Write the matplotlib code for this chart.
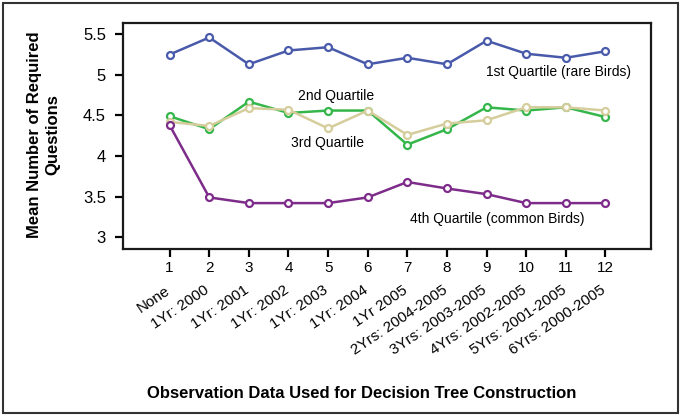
import matplotlib
matplotlib.use("Agg")
import matplotlib.pyplot as plt
from matplotlib.patches import Rectangle

plt.rcParams['font.family'] = ['Liberation Sans', 'DejaVu Sans']

# datos
x = list(range(1, 13))
etiquetas = ["None", "1Yr: 2000", "1Yr: 2001", "1Yr: 2002", "1Yr: 2003",
             "1Yr: 2004", "1Yr 2005", "2Yrs: 2004-2005", "3Yrs: 2003-2005",
             "4Yrs: 2002-2005", "5Yrs: 2001-2005", "6Yrs: 2000-2005"]
q1 = [5.25, 5.46, 5.13, 5.30, 5.34, 5.13, 5.21, 5.13, 5.42, 5.26, 5.21, 5.29]
q2 = [4.49, 4.33, 4.67, 4.53, 4.56, 4.56, 4.14, 4.33, 4.60, 4.56, 4.60, 4.48]
q3 = [4.42, 4.37, 4.59, 4.57, 4.34, 4.56, 4.26, 4.40, 4.44, 4.60, 4.60, 4.56]
q4 = [4.38, 3.49, 3.42, 3.42, 3.42, 3.49, 3.68, 3.60, 3.53, 3.42, 3.42, 3.42]

c_azul = "#4a5aab"
c_verde = "#35b64a"
c_beige = "#d5cd9c"
c_morado = "#7d2c8a"

fig = plt.figure(figsize=(6.85, 4.19), dpi=100)
ax = fig.add_axes([0.179, 0.406, 0.772, 0.540])

estilo = dict(marker="o", markersize=5, markerfacecolor="white",
              markeredgewidth=1.6, linewidth=1.8)
ax.plot(x, q2, color=c_verde, **estilo)
ax.plot(x, q3, color=c_beige, **estilo)
ax.plot(x, q4, color=c_morado, **estilo)
ax.plot(x, q1, color=c_azul, **estilo)

ax.set_xlim(-0.186, 13.16)
ax.set_ylim(2.856, 5.643)
ax.set_yticks([3, 3.5, 4, 4.5, 5, 5.5])
ax.set_yticklabels(["3", "3.5", "4", "4.5", "5", "5.5"])
ax.set_xticks(x)
ax.set_xticklabels([str(i) for i in x])

for s in ax.spines.values():
    s.set_linewidth(1.6)
    s.set_color("#1a1a1a")
ax.tick_params(axis="y", labelsize=12, length=6, width=1.6, direction="out", pad=6)
ax.tick_params(axis="x", labelsize=11, length=6, width=1.6, direction="out", pad=3)

# segunda fila de etiquetas, rotadas
for xi, et in zip(x, etiquetas):
    ax.text(xi - 0.03, -0.178, et, rotation=34, ha="right", va="center",
            rotation_mode="anchor", fontsize=11,
            transform=ax.get_xaxis_transform())

ax.text(8.98, 5.032, "1st Quartile (rare Birds)", fontsize=10, va="center")
ax.text(4.24, 4.74, "2nd Quartile", fontsize=10, va="center")
ax.text(4.06, 4.165, "3rd Quartile", fontsize=10, va="center")
ax.text(7.06, 3.222, "4th Quartile (common Birds)", fontsize=10, va="center")

fig.text(0.0635, 1 - 135/419, "Mean Number of Required\nQuestions", rotation=90,
         ha="center", va="center", multialignment="center", fontsize=12,
         fontweight="bold", linespacing=1.3)
fig.text(0.5285, 0.062, "Observation Data Used for Decision Tree Construction",
         ha="center", va="center", fontsize=12, fontweight="bold")

fig.patches.append(Rectangle((0.0044, 0.0143), 0.9854, 0.9785, transform=fig.transFigure,
                             fill=False, edgecolor="#333333", linewidth=1.5))

fig.savefig("out.png", dpi=100)
